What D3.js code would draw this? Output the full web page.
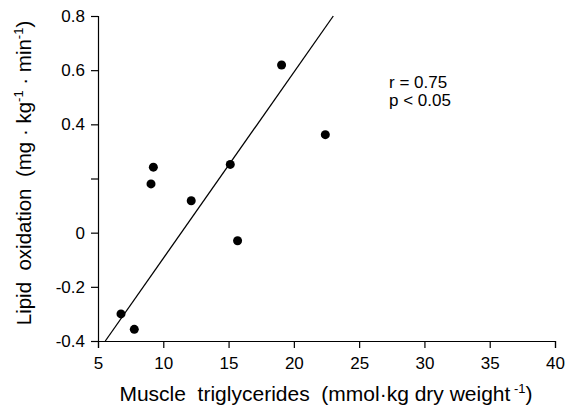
<!DOCTYPE html>
<html>
<head>
<meta charset="utf-8">
<script src="https://cdn.jsdelivr.net/npm/d3@7"></script>
<style>
	body { margin: 0; background: #fff; }
	svg { display: block; font-family: 'Liberation Sans', Arial, sans-serif; }
	svg text { white-space: pre; }
	.tick text { font-size: 17px; fill: #000; }
	.domain, .tick line { stroke: #000; stroke-width: 1.2; }
</style>
</head>
<body>
<svg id="canvas"></svg>
<script>
// measured points: muscle triglycerides vs lipid oxidation
const triglycerides = [6.76, 7.78, 9.06, 9.24, 12.14, 15.13, 15.69, 19.06, 22.41];
const lipidOxidation = [-0.30, -0.357, 0.18, 0.242, 0.118, 0.252, -0.03, 0.619, 0.362];

// regression line end points
const fitX = [5.56, 23.02];
const fitY = [-0.4, 0.8];

const xTicks = [5, 10, 15, 20, 25, 30, 35, 40];
const yTicks = [-0.4, -0.2, 0, 0.2, 0.4, 0.6, 0.8];
const yTickLabels = ['-0.4', '-0.2', '0', '', '0.4', '0.6', '0.8'];
const statLines = ['r = 0.75', 'p < 0.05'];

const w = 567;
const h = 408;

const svg = d3.select('#canvas').attr('width', w).attr('height', h);

const xScale = d3.scaleLinear().domain([5, 40]).range([98, 555]);
const yScale = d3.scaleLinear().domain([-0.4, 0.8]).range([341, 16]);

const xAxis = d3.axisBottom(xScale).tickValues(xTicks).tickSizeOuter(0).tickSize(7).tickPadding(9);
const yAxis = d3
	.axisLeft(yScale)
	.tickValues(yTicks)
	.tickSizeOuter(0)
	.tickSize(7)
	.tickPadding(6)
	.tickFormat((d, i) => yTickLabels[i]);

svg.append('g').attr('transform', 'translate(0,' + yScale(-0.4) + ')').call(xAxis);
svg.append('g').attr('transform', 'translate(' + xScale(5) + ',0)').call(yAxis);

// fit line
svg
	.append('line')
	.attr('x1', xScale(fitX[0]))
	.attr('y1', yScale(fitY[0]))
	.attr('x2', xScale(fitX[1]))
	.attr('y2', yScale(fitY[1]))
	.attr('stroke', '#000')
	.attr('stroke-width', 1.3);

svg
	.selectAll('circle')
	.data(triglycerides)
	.enter()
	.append('circle')
	.attr('cx', (d) => xScale(d))
	.attr('cy', (d, i) => yScale(lipidOxidation[i]))
	.attr('r', 4.5)
	.attr('fill', '#000');

// stats
svg
	.append('g')
	.selectAll('text')
	.data(statLines)
	.enter()
	.append('text')
	.attr('x', 389)
	.attr('y', (d, i) => 88 + i * 18)
	.attr('font-size', 17)
	.text((d) => d);

// x title
const xt = svg.append('text').attr('x', 326).attr('y', 401).attr('text-anchor', 'middle').attr('font-size', 21);
xt.append('tspan').text('Muscle  triglycerides  (mmol\u00b7kg dry weight');
xt.append('tspan').attr('dy', -8).attr('font-size', 13).text(' -1');
xt.append('tspan').attr('dy', 8).text(')');

// y title
const yt = svg
	.append('text')
	.attr('transform', 'translate(31,173) rotate(-90)')
	.attr('text-anchor', 'middle')
	.attr('font-size', 20.5);
yt.append('tspan').text('Lipid  oxidation  (mg \u00b7 kg');
yt.append('tspan').attr('dy', -8).attr('font-size', 13).text('-1');
yt.append('tspan').attr('dy', 8).text(' \u00b7 min');
yt.append('tspan').attr('dy', -8).attr('font-size', 13).text('-1');
yt.append('tspan').attr('dy', 8).text(')');
</script>
</body>
</html>
